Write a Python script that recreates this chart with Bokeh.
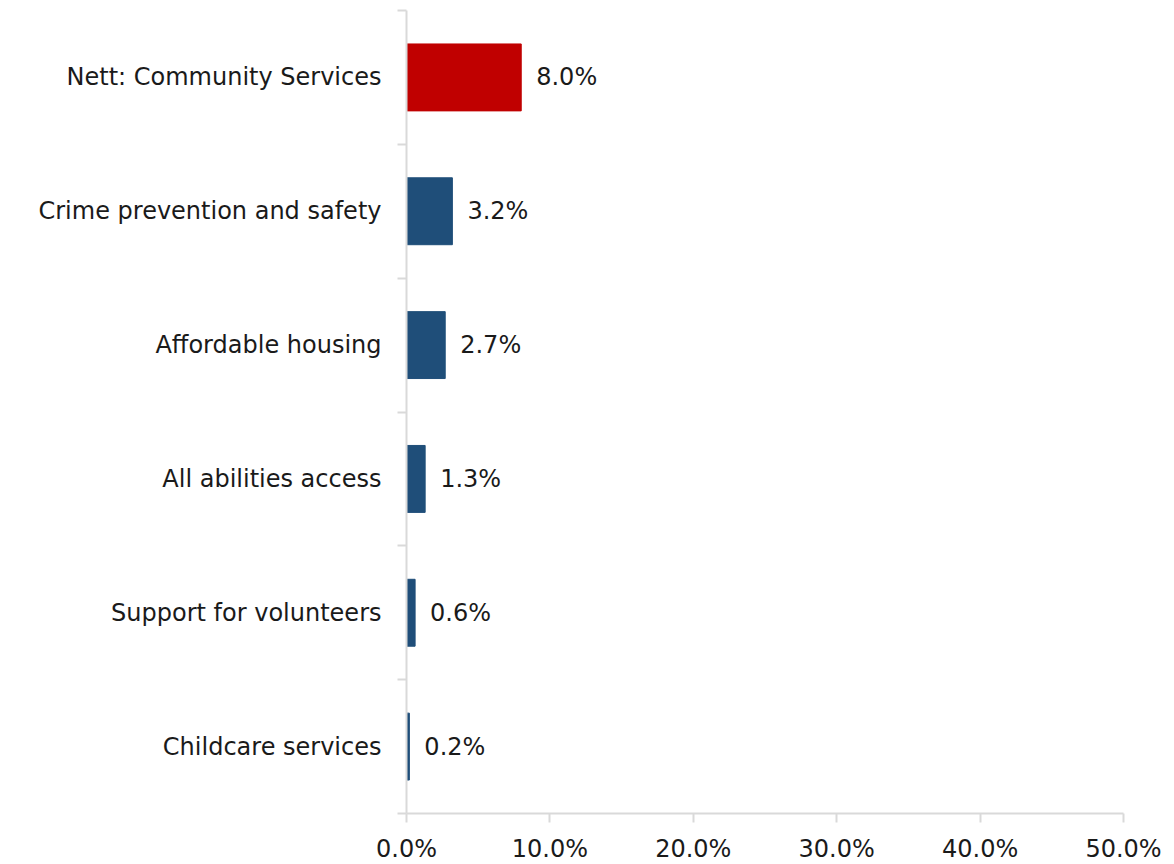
from bokeh.plotting import figure
from bokeh.models import ColumnDataSource, FixedTicker, Range1d
from bokeh.embed import file_html
from bokeh.resources import INLINE
from bokeh.core.properties import value

categories = ["Nett: Community Services", "Crime prevention and safety", "Affordable housing",
              "All abilities access", "Support for volunteers", "Childcare services"]
values = [8.0, 3.2, 2.7, 1.3, 0.6, 0.2]
colors = ["#C00000", "#1F4E79", "#1F4E79", "#1F4E79", "#1F4E79", "#1F4E79"]
x_ticks = [0, 10, 20, 30, 40, 50]

n = len(categories)
ypos = [n - i - 0.5 for i in range(n)]
labels = ["%.1f%%" % v for v in values]

FONT = "DejaVu Sans"
FS = "24px"
TXT = "#1a1a1a"
AX = "#D9D9D9"

src = ColumnDataSource(dict(y=ypos, v=values, c=colors, lab=labels, cat=categories))

p = figure(output_backend="svg", toolbar_location=None,
           frame_width=717, frame_height=803,
           min_border_left=406, min_border_right=45, min_border_top=10, min_border_bottom=40,
           x_range=Range1d(0, 50), y_range=Range1d(0, n))
p.outline_line_color = None
p.grid.grid_line_color = None
p.background_fill_color = "white"

p.hbar(y="y", right="v", left=0, height=0.5, color="c", source=src)
p.text(x="v", y="y", text="lab", source=src, x_offset=15, text_baseline="middle",
       text_align="left", text_font=value(FONT), text_font_size=FS, text_color=TXT)

# x axis
xa = p.xaxis[0]
xa.ticker = FixedTicker(ticks=x_ticks)
xa.major_label_overrides = {t: "%.1f%%" % t for t in x_ticks}
xa.axis_line_color = AX
xa.axis_line_width = 2
xa.major_tick_line_color = AX
xa.major_tick_line_width = 2
xa.major_tick_in = 0
xa.major_tick_out = 9
xa.minor_tick_line_color = None
xa.major_label_standoff = 12
xa.major_label_text_font = FONT
xa.major_label_text_font_size = FS
xa.major_label_text_color = TXT

# y axis: labels at band centres, ticks at band boundaries
ya = p.yaxis[0]
ya.ticker = FixedTicker(ticks=ypos, minor_ticks=list(range(n + 1)))
ya.major_label_overrides = {y: c for y, c in zip(ypos, categories)}
ya.axis_line_color = AX
ya.axis_line_width = 2
ya.major_tick_line_color = None
ya.major_tick_in = 0
ya.major_tick_out = 0
ya.minor_tick_line_color = AX
ya.minor_tick_line_width = 2
ya.minor_tick_in = 0
ya.minor_tick_out = 9
ya.major_label_standoff = 16
ya.major_label_text_font = FONT
ya.major_label_text_font_size = FS
ya.major_label_text_color = TXT

open("out.html", "w").write(file_html(p, INLINE))
